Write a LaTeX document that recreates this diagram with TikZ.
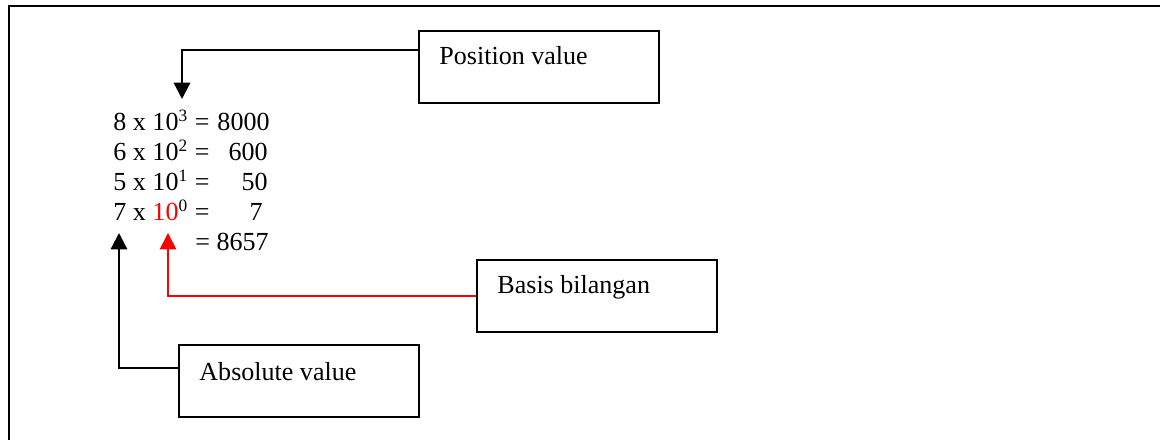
\documentclass[tikz,border=0pt]{standalone}
\usepackage{fontspec}
\setmainfont{Liberation Serif}
\usetikzlibrary{arrows.meta,calc}
\begin{document}
\begin{tikzpicture}[x=0.4608pt,y=-0.4608pt,
  frame/.style={line width=1.1pt},
  box/.style={draw, line width=1pt, inner sep=0pt, anchor=north west, minimum width=110.6pt, minimum height=33pt},
  txt/.style={font=\fontsize{12}{14}\selectfont, inner sep=0pt, anchor=base west},
  num/.style={font=\fontsize{12}{14}\selectfont, inner sep=0pt, anchor=base east},
  conn/.style={line width=1pt, -{Triangle[width=7.5pt,length=7.5pt]}},
  redconn/.style={conn, red, line width=0.8pt},
  ]
\useasboundingbox (0,0) rectangle (1160,440);
\draw[frame] (9,440) -- (9,6) -- (1160,6);

% boxes
\node[box] (pos) at (418,30) {};
\node[box] (basis) at (476,259) {};
\node[box] (abs) at (178,344) {};
\node[txt] (postxt) at ($(pos.north west)+(21,35)$) {Position value};
\node[txt] (basistxt) at ($(basis.north west)+(21,35)$) {Basis bilangan};
\node[txt] (abstxt) at ($(abs.north west)+(21,37)$) {Absolute value};

% equations
\node[txt] (e1) at (113,131) {8 x 10\textsuperscript{3} =};
\node[txt] (e2) at (113,161) {6 x 10\textsuperscript{2} =};
\node[txt] (e3) at (113,191) {5 x 10\textsuperscript{1} =};
\node[txt] (e4) at (113,221) {7 x \textcolor{red}{10}\textsuperscript{0} =};
\node[num] (v1) at (270,131) {8000};
\node[num] (v2) at (268,161) {600};
\node[num] (v3) at (268,191) {50};
\node[num] (v4) at (263,221) {7};
\node[txt] (e5) at (195,251) {= 8657};

% connectors
\coordinate (t1) at (182,99);
\coordinate (t2) at (168,233);
\coordinate (t3) at (119,233);
\draw[conn] ($(pos.north west)+(0,20)$) -| (t1);
\draw[redconn] (basis.west) -| (t2);
\draw[conn] ($(abs.north west)+(0,24)$) -| (t3);
\end{tikzpicture}
\end{document}
